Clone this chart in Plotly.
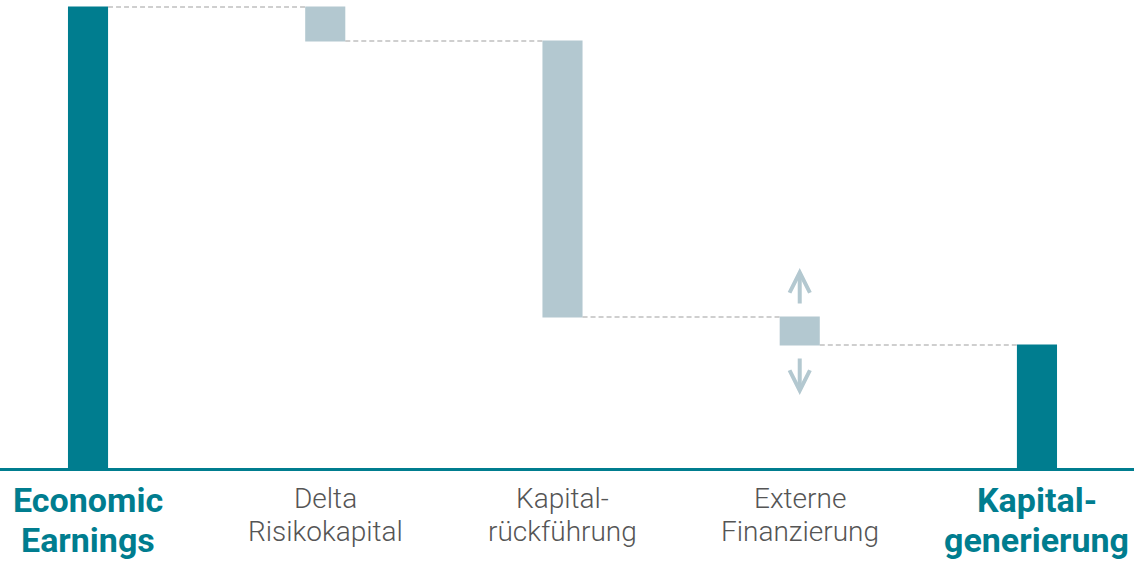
import plotly.graph_objects as go

categories = [["Economic", "Earnings"], ["Delta", "Risikokapital"], ["Kapital-", "rückführung"],
              ["Externe", "Finanzierung"], ["Kapital-", "generierung"]]
measures = ["absolute", "relative", "relative", "relative", "total"]
values = [461, -34, -276, -28, 0]
highlight = [True, False, False, False, True]
arrow_cat = 3
arrow_up = [163, 200]    # from, to
arrow_down = [111, 73]

TEAL = "#007D8F"
LIGHT = "#B3C8D0"
PLOT_H = 468

xs = list(range(len(categories)))

fig = go.Figure()
fig.add_trace(go.Waterfall(
    x=xs, y=values, measure=measures,
    width=0.169,
    decreasing=dict(marker=dict(color=LIGHT)),
    increasing=dict(marker=dict(color=LIGHT)),
    totals=dict(marker=dict(color=TEAL)),
    connector=dict(mode="between", line=dict(color="#A0A0A0", width=1.2, dash="5px,3px")),
    textposition="none", hoverinfo="skip", cliponaxis=False,
))

for i, lines in enumerate(categories):
    if highlight[i]:
        font = dict(family="Roboto", size=34, color=TEAL, weight=700)
        ypos = [-32, -71.5]
    else:
        font = dict(family="Roboto", size=28, color="#555555", weight=300)
        ypos = [-30.5, -63.5]
    for line, yp in zip(lines, ypos):
        fig.add_annotation(x=i, y=yp / PLOT_H, xref="x", yref="paper", text=line, showarrow=False,
                           yanchor="middle", font=font, align="center")

for (a, b) in [arrow_up, arrow_down]:
    fig.add_annotation(x=arrow_cat, y=b, ax=arrow_cat, ay=a, xref="x", yref="y",
                       axref="x", ayref="y", text="", showarrow=True,
                       arrowhead=5, arrowwidth=4, arrowsize=1.0, arrowcolor=LIGHT)

fig.update_layout(
    width=1134, height=561,
    margin=dict(l=0, r=0, t=0, b=93, pad=0, autoexpand=False),
    plot_bgcolor="white", paper_bgcolor="white",
    showlegend=False,
    xaxis=dict(range=[-0.371, 4.409], showgrid=False, zeroline=False, showticklabels=False,
               ticks="", showline=True, linecolor=TEAL, linewidth=2.5),
    yaxis=dict(range=[0, PLOT_H], showgrid=False, zeroline=False, showticklabels=False,
               ticks="", showline=False),
)
fig.write_html("out.html", config={"displayModeBar": False},
               post_script="document.body.style.margin='0';")
